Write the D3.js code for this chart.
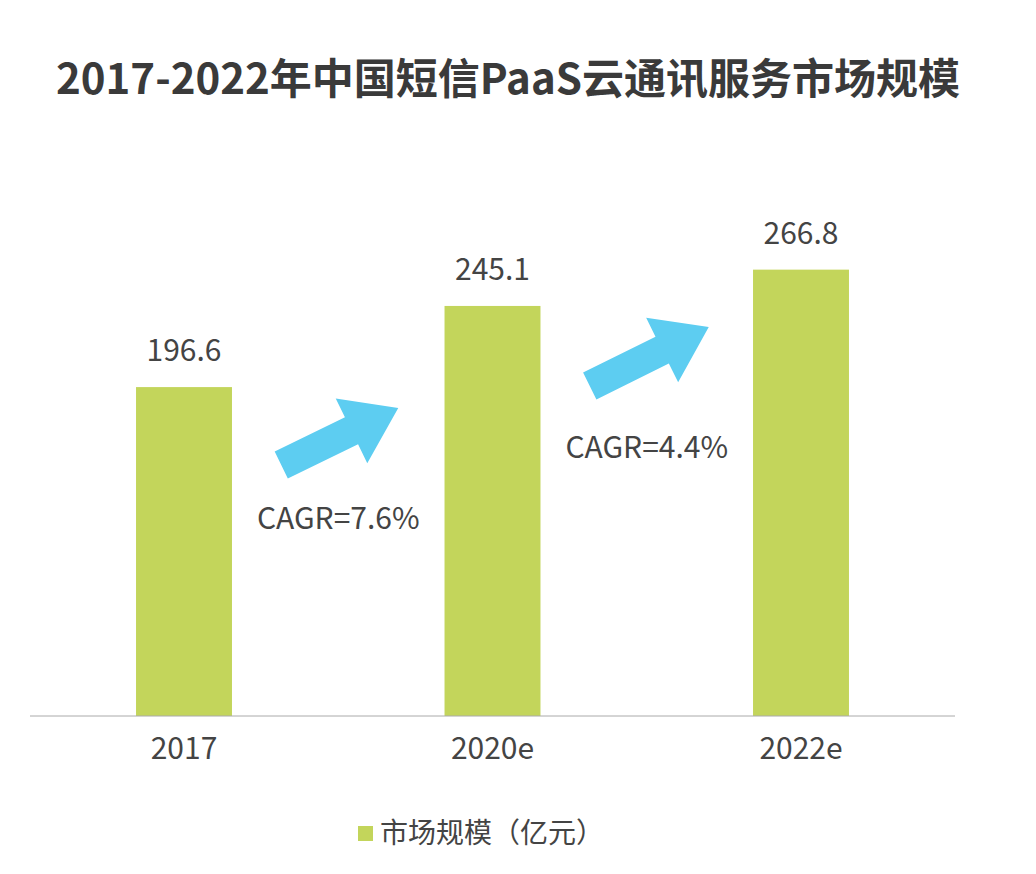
<!DOCTYPE html>
<html><head><meta charset="utf-8">
<script src="https://cdn.jsdelivr.net/npm/d3@7"></script>
<style>body{margin:0;background:#fff}text{font-family:"Noto Sans CJK SC","Open Sans",sans-serif}</style>
</head><body><svg id="c" width="1036" height="874"></svg>
<script>
const categories = ["2017", "2020e", "2022e"];
const values = [196.6, 245.1, 266.8];
const cagrLabels = ["CAGR=7.6%", "CAGR=4.4%"];
const title = "2017-2022年中国短信PaaS云通讯服务市场规模";
const legendLabel = "市场规模（亿元）";

const svg = d3.select("#c");
const baseY = 716;
const x = d3.scaleBand().domain(categories).range([29.75, 955.25]).paddingInner(0.689).paddingOuter(0.3445);
const y = d3.scaleLinear().domain([0, 300]).range([baseY, baseY - 300 * 1.673]);

svg.append("text").attr("x", 508).attr("y", 94).attr("text-anchor", "middle")
  .attr("font-size", 42).attr("font-weight", "bold").attr("fill", "#3a3a3a").text(title);

svg.selectAll("rect.bar").data(values).join("rect").attr("class", "bar")
  .attr("x", (d, i) => x(categories[i])).attr("width", x.bandwidth())
  .attr("y", d => y(d)).attr("height", d => baseY - y(d)).attr("fill", "#c3d55b");

svg.selectAll("text.val").data(values).join("text").attr("class", "val")
  .attr("x", (d, i) => x(categories[i]) + x.bandwidth() / 2).attr("y", d => y(d) - 26)
  .attr("text-anchor", "middle").attr("font-size", 30).attr("fill", "#444").text(d => d);

const axis = svg.append("g").attr("transform", `translate(0,${baseY})`)
  .call(d3.axisBottom(x).tickSize(0).tickPadding(22));
axis.select(".domain").attr("stroke", "#aaa").attr("d", "M30,0H955");
axis.selectAll("text").attr("font-size", 30).attr("fill", "#444")
  .attr("font-family", "'Noto Sans CJK SC','Open Sans',sans-serif");

// arrows between bars
function arrow(x0, y0, x1, y1) {
  const len = Math.hypot(x1 - x0, y1 - y0), ang = Math.atan2(y1 - y0, x1 - x0) * 180 / Math.PI;
  const sw = 15, hw = 36, hl = 52;
  const p = `M0,${-sw}L${len - hl},${-sw}L${len - hl},${-hw}L${len},0L${len - hl},${hw}L${len - hl},${sw}L0,${sw}Z`;
  svg.append("path").attr("d", p).attr("fill", "#5dcdf1")
    .attr("transform", `translate(${x0},${y0}) rotate(${ang})`);
}
const mids = [0, 1].map(i => (x(categories[i]) + x.bandwidth() + x(categories[i + 1])) / 2);
arrow(mids[0] - 57, 465, mids[0] + 60, 408);
arrow(mids[1] - 57, 386, mids[1] + 62, 327);

svg.selectAll("text.cagr").data(cagrLabels).join("text").attr("class", "cagr")
  .attr("x", (d, i) => mids[i]).attr("y", (d, i) => [529, 458][i])
  .attr("text-anchor", "middle").attr("font-size", 30).attr("fill", "#444").text(d => d);

svg.append("rect").attr("x", 358).attr("y", 826).attr("width", 15).attr("height", 15).attr("fill", "#c3d55b");
svg.append("text").attr("x", 380).attr("y", 843).attr("font-size", 28).attr("fill", "#444").text(legendLabel);
</script></body></html>
